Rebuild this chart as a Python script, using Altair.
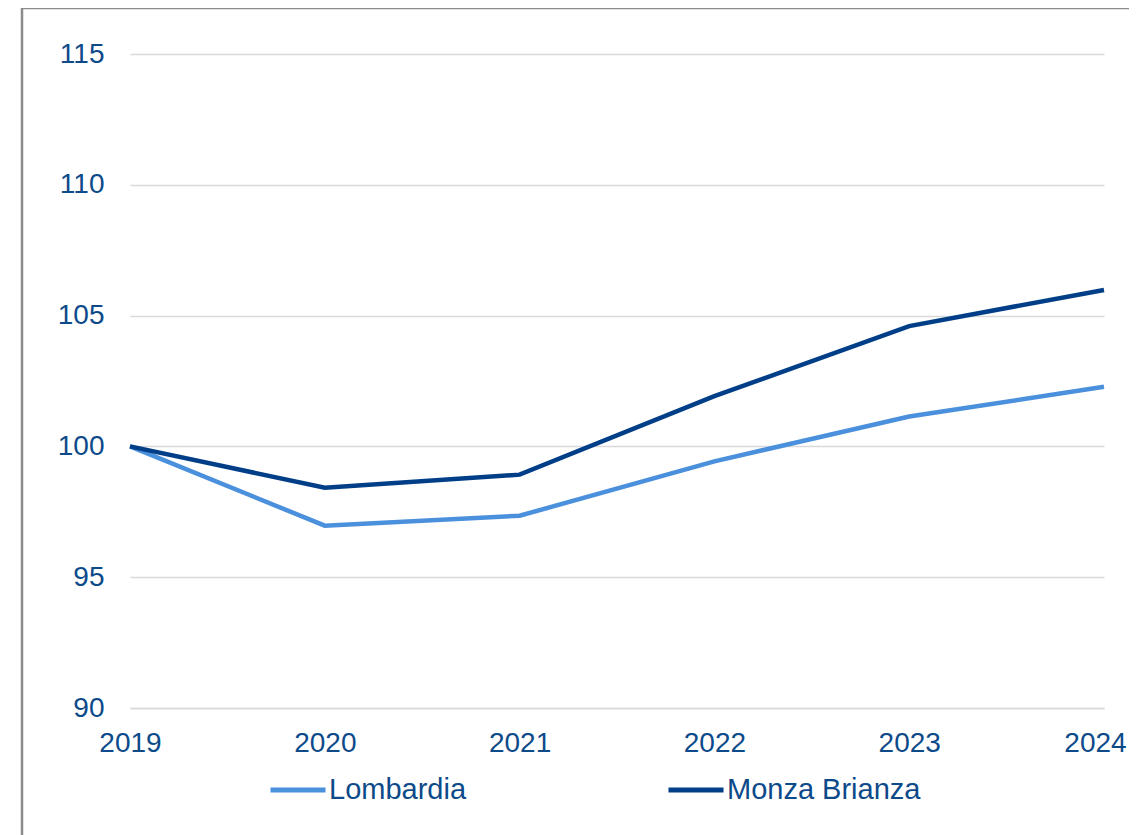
import altair as alt
import pandas as pd

years = ["2019", "2020", "2021", "2022", "2023", "2024"]
lombardia = [100.0, 96.97, 97.35, 99.43, 101.14, 102.28]
monza = [100.0, 98.42, 98.92, 101.92, 104.6, 105.98]
series = ["Lombardia", "Monza Brianza"]
colors = ["#4A90DC", "#003F88"]
y_ticks = [90, 95, 100, 105, 110, 115]

rows = []
for name, vals in zip(series, [lombardia, monza]):
    for yr, v in zip(years, vals):
        rows.append({"year": yr, "value": v, "series": name})
df = pd.DataFrame(rows)

TEXT = "#0D4A8A"
FONT = "Liberation Sans"

lines = alt.Chart(df).mark_line(strokeWidth=4.5).encode(
    x=alt.X("year:O", sort=years, scale=alt.Scale(padding=0),
            axis=alt.Axis(title=None, labelAngle=0, labelFontSize=28, labelColor=TEXT,
                          labelFont=FONT, ticks=False, domain=True, domainColor="#D9D9D9",
                          domainWidth=1.5, labelPadding=21, grid=False,
                          labelOffset={"condition": {"test": "datum.value == '2024'", "value": -9},
                                       "value": 0})),
    y=alt.Y("value:Q", scale=alt.Scale(domain=[90, 115], nice=False, zero=False),
            axis=alt.Axis(title=None, values=y_ticks, labelFontSize=28, labelColor=TEXT,
                          labelFont=FONT, ticks=False, domain=False, grid=True,
                          gridColor="#D9D9D9", gridWidth=1.5, labelPadding=26)),
    color=alt.Color("series:N", sort=series,
                    scale=alt.Scale(domain=series, range=colors),
                    legend=alt.Legend(title=None, orient="none", legendX=138, legendY=706,
                                      direction="horizontal", symbolType="stroke",
                                      symbolSize=3025, symbolStrokeWidth=5,
                                      labelFontSize=29, labelColor=TEXT, labelFont=FONT,
                                      labelOffset=1, labelLimit=500,
                                      columnPadding=191, padding=0)),
)

frame = alt.Chart(alt.Data(values=[{"f": 1}])).mark_rect(
    fill=None, stroke="#8C8C8C", strokeWidth=2.5, clip=False
).encode(
    x=alt.value(-108), x2=alt.value(1300), y=alt.value(-46), y2=alt.value(1000)
)

chart = alt.layer(frame, lines).properties(
    width=974, height=654,
    autosize=alt.AutoSizeParams(type="none"),
    padding={"left": 122, "top": 46, "right": 25, "bottom": 127},
).configure(background="white").configure_view(stroke=None)

chart.save("out.html", embed_options={"renderer": "svg", "actions": False})
